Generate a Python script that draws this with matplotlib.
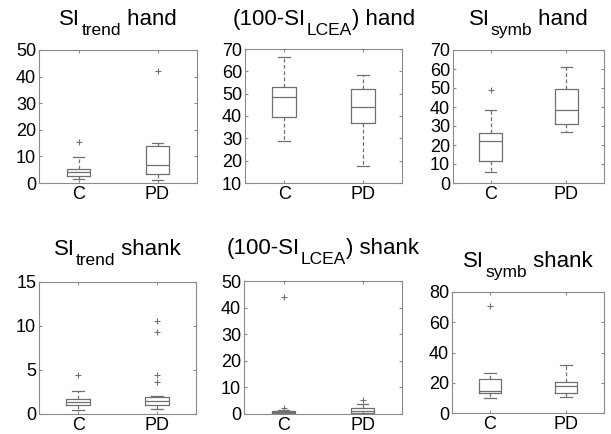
import numpy as np
import matplotlib.pyplot as plt

plt.rcParams['font.family'] = ['Liberation Sans', 'DejaVu Sans']

groups = ['C', 'PD']

# box statistics: [whislo, q1, med, q3, whishi]
trend_hand = [[1.4, 2.6, 4.0, 5.4, 9.6], [1.1, 3.3, 6.9, 13.9, 15.2]]
trend_hand_fliers = [[15.3], [42.0]]

lcea_hand = [[28.8, 39.4, 48.3, 52.8, 66.4], [17.5, 37.0, 43.9, 52.3, 58.5]]
lcea_hand_fliers = [[], []]

symb_hand = [[6.0, 11.8, 22.2, 26.4, 38.4], [26.6, 30.8, 38.2, 49.6, 61.0]]
symb_hand_fliers = [[48.9], []]

trend_shank = [[0.45, 1.0, 1.4, 1.75, 2.65], [0.6, 1.0, 1.45, 1.9, 2.0]]
trend_shank_fliers = [[4.4], [10.6, 9.3, 4.4, 3.6]]

lcea_shank = [[0.0, 0.3, 0.7, 1.2, 1.5], [0.0, 0.3, 1.0, 2.1, 3.7]]
lcea_shank_fliers = [[44.0, 2.2], [5.3]]

symb_shank = [[9.7, 13.0, 14.8, 22.3, 26.5], [10.6, 13.2, 17.6, 20.5, 31.5]]
symb_shank_fliers = [[70.5], []]

# titles as (before, subscript, after)
panels = [
    (('SI', 'trend', ' hand'), trend_hand, trend_hand_fliers, (0, 50), np.arange(0, 51, 10)),
    (('(100-SI', 'LCEA', ') hand'), lcea_hand, lcea_hand_fliers, (10, 70), np.arange(10, 71, 10)),
    (('SI', 'symb', ' hand'), symb_hand, symb_hand_fliers, (0, 70), np.arange(0, 71, 10)),
    (('SI', 'trend', ' shank'), trend_shank, trend_shank_fliers, (0, 15), np.arange(0, 16, 5)),
    (('(100-SI', 'LCEA', ') shank'), lcea_shank, lcea_shank_fliers, (0, 50), np.arange(0, 51, 10)),
    (('SI', 'symb', ' shank'), symb_shank, symb_shank_fliers, (0, 80), np.arange(0, 81, 20)),
]

W, H = 611, 434
# axes boxes in pixels: left, top, right, bottom
boxes = [(39, 50, 197, 183), (245, 49, 402, 183), (453, 50, 604, 183),
         (39, 282, 196, 414), (244, 281, 402, 414), (452, 292, 604, 413)]
title_off = [25, 24, 25, 27, 27, 25]

fig = plt.figure(figsize=(W / 100, H / 100), dpi=100)
renderer = fig.canvas.get_renderer()
line_c = '#707070'
frame_c = '#8a8a8a'


def put_title(ax, parts, off):
    # main text, lowered subscript, rest; centred over the axes
    sizes = [16, 12.5, 16]
    drops = [0, -10, 0]
    texts = []
    for s, fs, dy in zip(parts, sizes, drops):
        t = ax.annotate(s, xy=(0.5, 1), xycoords='axes fraction',
                        xytext=(0, off + dy), textcoords='offset pixels',
                        ha='left', va='baseline', fontsize=fs)
        texts.append(t)
    widths = [t.get_window_extent(renderer).width for t in texts]
    gap = 1
    total = sum(widths) + gap
    x = -total / 2
    for i, (t, w, dy) in enumerate(zip(texts, widths, drops)):
        t.xyann = (x, off + dy)
        x += w + (gap if i == 0 else 0)


for (parts, stats, fliers, ylim, yt), (l, t, r, b), off in zip(panels, boxes, title_off):
    ax = fig.add_axes([l / W, (H - b) / H, (r - l) / W, (b - t) / H])
    bstats = []
    for s, f, g in zip(stats, fliers, groups):
        bstats.append({'whislo': s[0], 'q1': s[1], 'med': s[2], 'q3': s[3],
                       'whishi': s[4], 'fliers': f, 'label': g})
    ax.bxp(bstats, positions=[1, 2], widths=0.3, capwidths=0.15,
           boxprops=dict(color=line_c, linewidth=0.9),
           whiskerprops=dict(color=line_c, linewidth=0.9, linestyle=(0, (3, 2))),
           capprops=dict(color=line_c, linewidth=0.9),
           medianprops=dict(color=line_c, linewidth=0.9),
           flierprops=dict(marker='+', markeredgecolor=line_c, markersize=5,
                           markeredgewidth=0.8))
    ax.set_xlim(0.5, 2.5)
    ax.set_ylim(*ylim)
    ax.set_yticks(yt)
    ax.set_xticks([1, 2])
    ax.set_xticklabels(groups)
    ax.tick_params(direction='in', length=2, color=frame_c, labelsize=13,
                   top=True, right=True, pad=2)
    for sp in ax.spines.values():
        sp.set_color(frame_c)
        sp.set_linewidth(0.8)
    put_title(ax, parts, off)

fig.savefig('out.png', dpi=100)
